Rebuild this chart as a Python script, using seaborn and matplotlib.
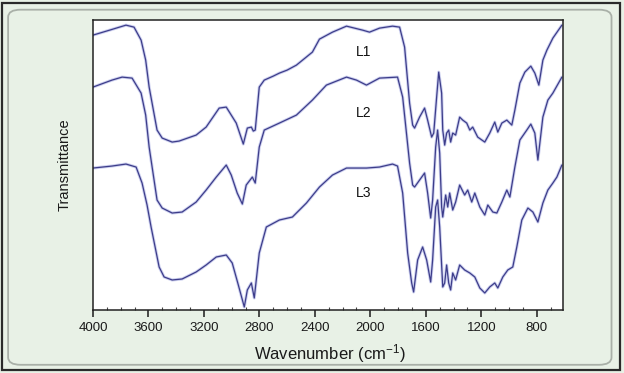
import numpy as np
import pandas as pd
import matplotlib
matplotlib.use("Agg")
import matplotlib.pyplot as plt
import seaborn as sns
from matplotlib.patches import FancyBboxPatch, Rectangle
from matplotlib.ticker import MultipleLocator

# IR spectra (wavenumber in cm-1, transmittance in offset a.u.)
wn_l1 = [4000, 3880, 3762, 3704, 3653, 3620, 3595, 3538, 3501, 3429, 3379, 3256, 3184, 3090,
         3039, 2967, 2916, 2887, 2858, 2844, 2830, 2801, 2765, 2700, 2656, 2600, 2533, 2418,
         2367, 2273, 2172, 2056, 2006, 1934, 1840, 1789, 1753, 1717, 1695, 1681, 1645, 1609,
         1587, 1558, 1543, 1522, 1507, 1486, 1478, 1464, 1450, 1435, 1421, 1406, 1385, 1356,
         1334, 1305, 1283, 1262, 1226, 1175, 1139, 1103, 1081, 1052, 1016, 980, 958, 922,
         886, 843, 814, 785, 756, 727, 684, 619]
t_l1 = [275, 280, 285, 283, 270, 250, 223, 180, 172, 168, 169, 175, 183, 202,
        203, 187, 166, 182, 183, 179, 180, 223, 230, 234, 237, 240, 245, 258,
        271, 278, 284, 280, 278, 282, 284, 283, 263, 207, 185, 182, 193, 202,
        190, 173, 177, 213, 238, 217, 180, 165, 177, 180, 168, 177, 175, 193,
        190, 187, 180, 183, 173, 168, 177, 188, 178, 187, 190, 185, 200, 227,
        238, 244, 237, 225, 250, 260, 272, 285]

wn_l2 = [4000, 3863, 3790, 3718, 3653, 3620, 3595, 3538, 3501, 3429, 3357, 3256, 3184, 3111,
         3039, 3003, 2960, 2923, 2895, 2851, 2830, 2801, 2765, 2656, 2533, 2418, 2317, 2172,
         2100, 2028, 1934, 1804, 1767, 1717, 1695, 1681, 1645, 1609, 1587, 1565, 1551, 1529,
         1515, 1500, 1486, 1478, 1457, 1442, 1428, 1406, 1385, 1356, 1320, 1298, 1269, 1247,
         1211, 1175, 1153, 1117, 1088, 1052, 1016, 994, 958, 922, 872, 843, 814, 792, 756,
         720, 684, 619]
t_l2 = [223, 230, 233, 232, 217, 195, 163, 110, 102, 97, 98, 108, 120, 133,
        145, 135, 117, 106, 125, 133, 127, 163, 180, 187, 195, 210, 225, 233,
        230, 225, 232, 233, 213, 147, 125, 123, 130, 137, 117, 92, 110, 163,
        180, 157, 103, 93, 115, 103, 117, 100, 108, 125, 115, 120, 108, 117,
        103, 95, 105, 98, 97, 108, 120, 113, 143, 170, 180, 186, 177, 150, 193,
        210, 217, 233]

wn_l3 = [4000, 3863, 3762, 3689, 3646, 3610, 3581, 3523, 3487, 3429, 3357, 3256, 3184, 3111,
         3039, 2996, 2952, 2909, 2887, 2858, 2837, 2801, 2750, 2656, 2562, 2461, 2367, 2273,
         2172, 2028, 1934, 1840, 1804, 1767, 1731, 1702, 1688, 1659, 1623, 1594, 1565, 1551,
         1529, 1515, 1500, 1478, 1464, 1450, 1435, 1421, 1406, 1385, 1356, 1320, 1283, 1247,
         1211, 1175, 1139, 1103, 1081, 1045, 1009, 973, 944, 908, 864, 828, 792, 756, 720,
         684, 655, 619]
t_l3 = [142, 144, 146, 143, 127, 105, 83, 43, 33, 30, 31, 38, 45, 53,
        55, 47, 25, 3, 20, 27, 12, 57, 83, 90, 93, 107, 123, 135,
        142, 142, 143, 146, 144, 117, 57, 27, 18, 50, 63, 50, 28, 50,
        103, 110, 83, 23, 27, 45, 27, 20, 37, 30, 45, 40, 37, 33,
        22, 17, 23, 27, 22, 33, 40, 43, 63, 90, 102, 98, 88, 107, 120,
        127, 133, 145]

labels = ["L1", "L2", "L3"]
label_wn = [2050, 2050, 2050]
label_t = [258, 197, 117]

sns.set_theme(style="ticks")
plt.rcParams["font.family"] = ["Liberation Sans", "DejaVu Sans"]
plt.rcParams["mathtext.default"] = "regular"

bg = "#e8f1e6"
fig = plt.figure(figsize=(6.24, 3.73), dpi=100, facecolor=bg)

# page frame: dark outer border and soft rounded inner box (kept behind the axes)
fig.patches.append(Rectangle((0.004, 0.008), 0.989, 0.985, transform=fig.transFigure,
                             fill=False, edgecolor="#2a2a2a", linewidth=1.6, zorder=-10))
fig.patches.append(FancyBboxPatch((0.013, 0.022), 0.967, 0.952,
                                  boxstyle="round,pad=0,rounding_size=0.02",
                                  transform=fig.transFigure, facecolor=bg,
                                  edgecolor="#a9b0a8", linewidth=1.3, zorder=-9))

ax = fig.add_axes([0.149, 0.169, 0.753, 0.777])
ax.set_facecolor("white")

for wn, t in [(wn_l1, t_l1), (wn_l2, t_l2), (wn_l3, t_l3)]:
    df = pd.DataFrame({"wn": wn, "t": t})
    sns.lineplot(data=df, x="wn", y="t", ax=ax, estimator=None, color="#aab0e4",
                 linewidth=2.2, alpha=0.6)
    sns.lineplot(data=df, x="wn", y="t", ax=ax, estimator=None, color="#3d3d8a",
                 linewidth=0.9)

for lab, x, y in zip(labels, label_wn, label_t):
    ax.text(x, y, lab, fontsize=10, color="#111111", ha="center", va="center")

ax.set_xlim(4000, 612)
ax.set_ylim(0, 290)
ax.set_yticks([])
ax.xaxis.set_major_locator(MultipleLocator(400))
ax.xaxis.set_minor_locator(MultipleLocator(100))
ax.tick_params(axis="x", which="major", direction="out", length=5, width=1.1,
               labelsize=9.5, pad=4, colors="#1a1a1a")
ax.tick_params(axis="x", which="minor", direction="in", length=2, width=0.8, color="#444444")
for s in ax.spines.values():
    s.set_color("#222222")
    s.set_linewidth(1.1)

ax.set_xlabel("Wavenumber (cm$^{-1}$)", fontsize=12, color="#1a1a1a")
ax.xaxis.set_label_coords(0.505, -0.11)
ax.set_ylabel("Transmittance", fontsize=10.5, color="#1a1a1a")
ax.yaxis.set_label_coords(-0.045, 0.5)

fig.savefig("out.png", dpi=100, facecolor=bg)
